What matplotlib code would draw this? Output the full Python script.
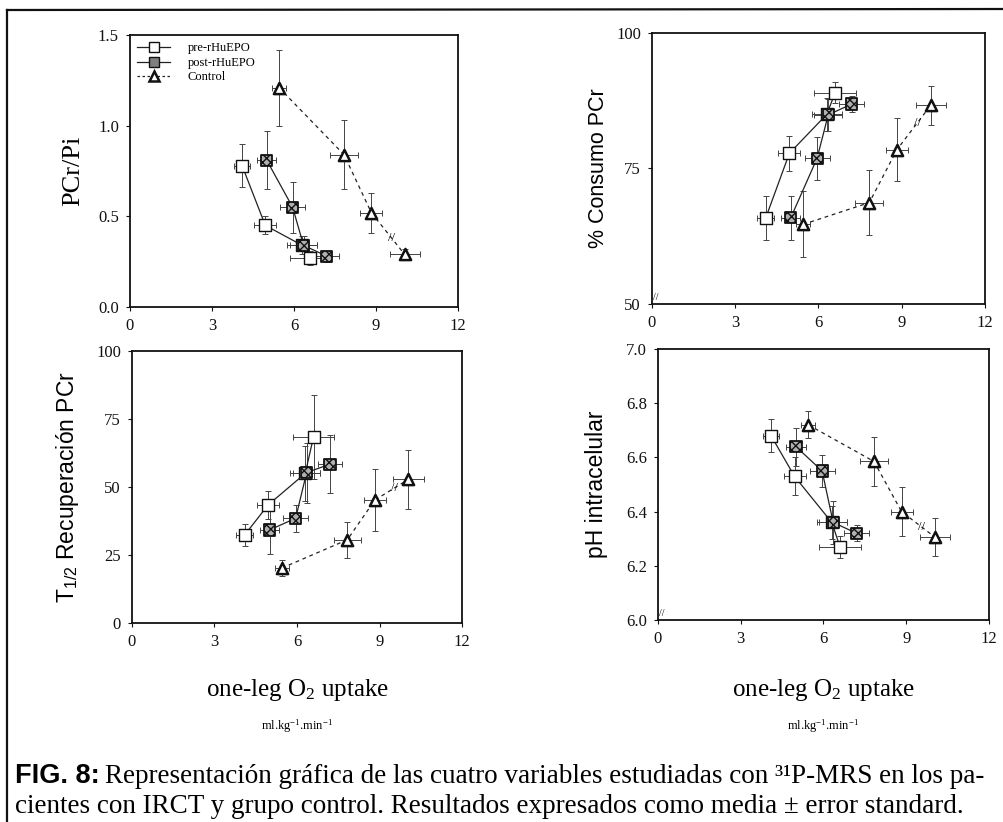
import matplotlib
matplotlib.use('Agg')
import matplotlib.pyplot as plt
from matplotlib.lines import Line2D

plt.rcParams['font.family'] = ['Liberation Serif', 'DejaVu Serif']
plt.rcParams['mathtext.fontset'] = 'custom'
plt.rcParams['mathtext.rm'] = 'Liberation Serif'
plt.rcParams['mathtext.sf'] = 'Liberation Sans'
plt.rcParams['mathtext.default'] = 'rm'

# one-leg O2 uptake (ml/kg/min), same for every panel
pre_x = [4.1, 4.95, 6.3, 6.6]
pre_xerr = [0.3, 0.4, 0.55, 0.75]
post_x = [5.0, 5.95, 6.35, 7.2]
post_xerr = [0.35, 0.45, 0.5, 0.45]
ctrl_x = [5.45, 7.83, 8.83, 10.05]
ctrl_xerr = [0.25, 0.5, 0.4, 0.55]

# PCr/Pi
pcr_pre = [0.78, 0.45, 0.34, 0.27]
pcr_pre_err = [0.12, 0.05, 0.05, 0.04]
pcr_post = [0.81, 0.55, 0.34, 0.28]
pcr_post_err = [0.16, 0.14, 0.05, 0.03]
pcr_ctrl = [1.21, 0.84, 0.52, 0.29]
pcr_ctrl_err = [0.21, 0.19, 0.11, 0.03]

# % consumo PCr
cons_pre = [65.9, 77.8, 85.0, 89.0]
cons_pre_err = [4.0, 3.2, 3.0, 2.0]
cons_post = [65.9, 76.9, 84.9, 86.9]
cons_post_err = [4.0, 4.0, 3.0, 1.5]
cons_ctrl = [64.7, 68.7, 78.5, 86.7]
cons_ctrl_err = [6.1, 6.0, 5.8, 3.6]

# T1/2 recuperacion PCr
t12_pre = [32.4, 43.4, 55.0, 68.4]
t12_pre_err = [4.0, 5.0, 10.0, 15.6]
t12_post = [34.2, 38.5, 55.3, 58.4]
t12_post_err = [9.0, 5.0, 11.0, 10.7]
t12_ctrl = [20.2, 30.6, 45.2, 52.8]
t12_ctrl_err = [3.0, 6.7, 11.3, 10.9]

# pH intracelular
ph_pre = [6.68, 6.53, 6.36, 6.27]
ph_pre_err = [0.06, 0.07, 0.06, 0.04]
ph_post = [6.64, 6.55, 6.36, 6.32]
ph_post_err = [0.07, 0.06, 0.08, 0.03]
ph_ctrl = [6.72, 6.585, 6.40, 6.305]
ph_ctrl_err = [0.05, 0.09, 0.09, 0.07]

xticks = [0, 3, 6, 9, 12]
labels = ['pre-rHuEPO', 'post-rHuEPO', 'Control']

W, H = 1004, 822
fig = plt.figure(figsize=(W / 100, H / 100), dpi=100)


def box(x0, y0, x1, y1):
    return [x0 / W, 1 - y1 / H, (x1 - x0) / W, (y1 - y0) / H]


def draw(ax, pre, pre_e, post, post_e, ctrl, ctrl_e):
    eb = dict(fmt='none', ecolor='#444444', elinewidth=0.7, capsize=2, capthick=0.7)
    ax.errorbar(pre_x, pre, xerr=pre_xerr, yerr=pre_e, zorder=1, **eb)
    ax.errorbar(post_x, post, xerr=post_xerr, yerr=post_e, zorder=1, **eb)
    ax.errorbar(ctrl_x, ctrl, xerr=ctrl_xerr, yerr=ctrl_e, zorder=1, **eb)
    ax.plot(pre_x, pre, '-', color='#222222', lw=0.9, zorder=2)
    ax.plot(post_x, post, '-', color='#222222', lw=0.9, zorder=2)
    ax.plot(ctrl_x, ctrl, '--', dashes=(3, 3), color='#222222', lw=0.9, zorder=2)
    ax.scatter(pre_x, pre, marker='s', s=65, facecolor='white', edgecolor='#111111',
               linewidth=1.0, zorder=4)
    ax.scatter(post_x, post, marker='s', s=65, facecolor='#b0b0b0', edgecolor='#111111',
               hatch='xxxx', linewidth=1.3, zorder=5)
    ax.scatter(ctrl_x, ctrl, marker='^', s=65, facecolor='white', edgecolor='#111111',
               linewidth=1.8, zorder=4)
    # break mark on the control line
    t = 0.6
    mx = ctrl_x[2] + t * (ctrl_x[3] - ctrl_x[2])
    my = ctrl[2] + t * (ctrl[3] - ctrl[2])
    ax.text(mx, my, '//', fontsize=9, ha='center', va='center', zorder=6)


def style(ax, ylim, yticks, fmt):
    ax.set_xlim(0, 12)
    ax.set_ylim(*ylim)
    ax.set_xticks(xticks)
    ax.set_yticks(yticks)
    ax.set_yticklabels([fmt % v for v in yticks])
    ax.tick_params(direction='out', length=3, width=0.8, labelsize=12, pad=5, colors='#111111')
    for sp in ax.spines.values():
        sp.set_linewidth(1.3)
        sp.set_color('#111111')


ax1 = fig.add_axes(box(130, 35, 458, 307))
draw(ax1, pcr_pre, pcr_pre_err, pcr_post, pcr_post_err, pcr_ctrl, pcr_ctrl_err)
style(ax1, (0, 1.5), [0.0, 0.5, 1.0, 1.5], '%.1f')
ax1.set_ylabel('PCr/Pi', fontsize=19)
ax1.yaxis.set_label_coords(-0.14, 0.5)

handles = [
    Line2D([], [], color='#222222', lw=0.9, marker='s', ms=7, mfc='white', mec='#111111'),
    Line2D([], [], color='#222222', lw=0.9, marker='s', ms=7, mfc='#808080', mec='#111111'),
    Line2D([], [], color='#222222', lw=0.9, ls='--', dashes=(2, 2), marker='^', ms=7,
           mfc='white', mec='#111111', mew=1.8),
]
ax1.legend(handles, labels, loc='upper left', frameon=False, fontsize=9,
           handlelength=2.6, labelspacing=0.2, borderaxespad=0.2, handletextpad=1.4)

ax2 = fig.add_axes(box(652, 33, 985, 304))
draw(ax2, cons_pre, cons_pre_err, cons_post, cons_post_err, cons_ctrl, cons_ctrl_err)
style(ax2, (50, 100), [50, 75, 100], '%d')
ax2.set_ylabel('% Consumo PCr', fontsize=15.5, family='Liberation Sans')
ax2.yaxis.set_label_coords(-0.13, 0.5)
ax2.text(0.012, 0.025, '//', transform=ax2.transAxes, fontsize=7, ha='center', va='center')

ax3 = fig.add_axes(box(132, 351, 462, 623))
draw(ax3, t12_pre, t12_pre_err, t12_post, t12_post_err, t12_ctrl, t12_ctrl_err)
style(ax3, (0, 100), [0, 25, 50, 75, 100], '%d')
ax3.set_ylabel(r'T$_{\mathsf{1/2}}$ Recuperación PCr', fontsize=16.5, family='Liberation Sans')
ax3.yaxis.set_label_coords(-0.155, 0.5)

ax4 = fig.add_axes(box(658, 349, 989, 620))
draw(ax4, ph_pre, ph_pre_err, ph_post, ph_post_err, ph_ctrl, ph_ctrl_err)
style(ax4, (6.0, 7.0), [6.0, 6.2, 6.4, 6.6, 6.8, 7.0], '%.1f')
ax4.set_ylabel('pH intracelular', fontsize=16.5, family='Liberation Sans')
ax4.yaxis.set_label_coords(-0.15, 0.5)
ax4.text(0.012, 0.025, '//', transform=ax4.transAxes, fontsize=7, ha='center', va='center')

# x axis titles under the bottom row
for ax in (ax3, ax4):
    pos = ax.get_position()
    cx = pos.x0 + pos.width / 2
    fig.text(cx, 1 - 690 / H, r'one-leg O$_2$ uptake', fontsize=18, ha='center', va='center')
    fig.text(cx, 1 - 726 / H, r'ml.kg$^{-1}$.min$^{-1}$', fontsize=9, ha='center', va='center')

# caption
fig.canvas.draw()
r = fig.canvas.get_renderer()
cap_size = 19.5
t1 = fig.text(15 / W, 1 - 776 / H, 'FIG. 8:', fontsize=cap_size, weight='bold',
              family=['Liberation Sans Narrow', 'Liberation Sans'], va='center')
bb = t1.get_window_extent(renderer=r)
fig.text((bb.x1 + 5) / W, 1 - 776 / H,
         'Representación gráfica de las cuatro variables estudiadas con ³¹P-MRS en los pa-',
         fontsize=cap_size, va='center')
fig.text(15 / W, 1 - 806 / H,
         'cientes con IRCT y grupo control. Resultados expresados como media ± error standard.',
         fontsize=cap_size, va='center')

# scanned page border
fig.add_artist(Line2D([7 / W, 1], [1 - 10 / H, 1 - 9 / H], color='#111111', lw=1.6))
fig.add_artist(Line2D([7 / W, 7 / W], [1 - 10 / H, 0], color='#111111', lw=1.6))

fig.savefig('out.png', dpi=100)
